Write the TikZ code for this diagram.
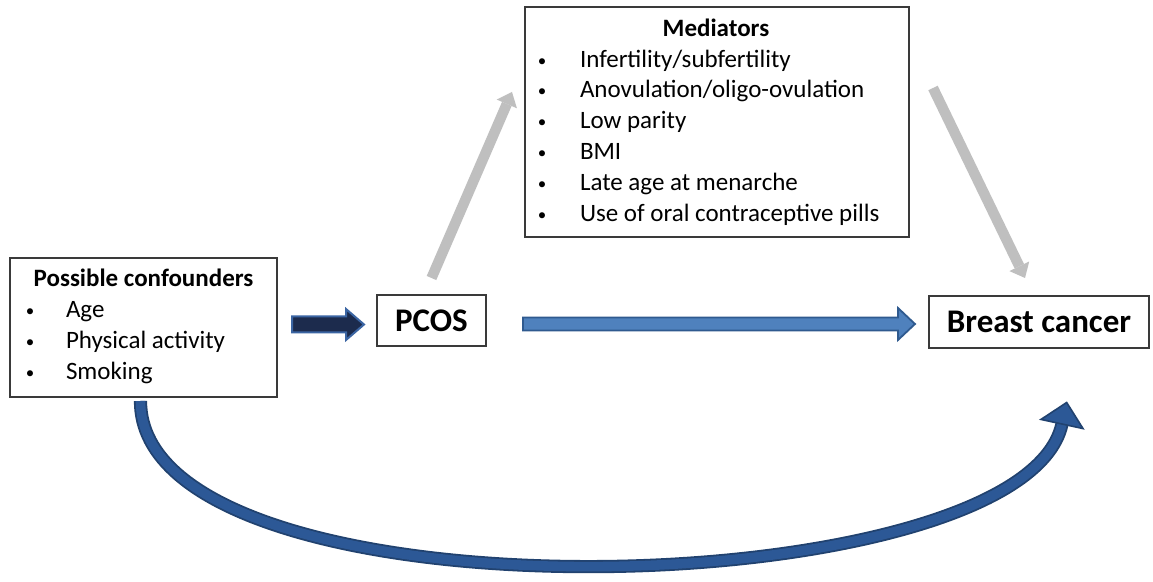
\documentclass[tikz,border=0pt]{standalone}
\usepackage{fontspec}
\setmainfont{Carlito}
\usetikzlibrary{arrows.meta,calc,decorations.markings}
\definecolor{boxline}{HTML}{3A3A3A}
\definecolor{medgray}{HTML}{BFBFBF}
\definecolor{navyfill}{HTML}{1C2B4D}
\definecolor{navyline}{HTML}{3B65A3}
\definecolor{bluefill}{HTML}{4F81BD}
\definecolor{blueline}{HTML}{2F5A8F}
\definecolor{curvemain}{HTML}{2C5896}
\definecolor{curvedark}{HTML}{21426F}
\newcommand{\hblockarrow}[6]{%
  \draw[#1] ($(#2)+(0,-#4)$) -- ($(#3)+(-#6,-#4)$) -- ($(#3)+(-#6,-#5)$) -- (#3)
    -- ($(#3)+(-#6,#5)$) -- ($(#3)+(-#6,#4)$) -- ($(#2)+(0,#4)$) -- cycle;}
\newcommand{\smallbul}{\raisebox{0.9pt}{\fontsize{8.5}{10}\selectfont\textbullet}}
\begin{document}
\begin{tikzpicture}[x=0.5pt,y=-0.5pt,
  boxstyle/.style={draw=boxline, line width=0.8pt, fill=white, inner sep=0pt, outer sep=0pt},
  txt/.style={inner sep=0pt, outer sep=0pt, font=\fontsize{12.5}{15.5}\selectfont},
  bigtxt/.style={font=\fontsize{16.5}{19}\selectfont\bfseries},
  grayarrow/.style={draw=medgray, line width=5.2pt, -{Triangle[length=6.5pt,width=11pt,line width=0pt]}},
  shortarrow/.style={fill=navyfill, draw=navyline, line width=1pt, line join=miter},
  longarrow/.style={fill=bluefill, draw=blueline, line width=0.9pt, line join=miter}]
\fill[white] (0,0) rectangle (1153,582);
\useasboundingbox (0,0) rectangle (1153,582);

% boxes
\node[boxstyle, minimum width=133.5pt, minimum height=69.5pt] (conf) at (143.5,327.5) {};
\node[boxstyle, minimum width=192pt, minimum height=115pt] (med) at (717,122) {};
\node[boxstyle, bigtxt, minimum width=54.5pt, minimum height=25.5pt] (pcos) at (431.5,320.5) {PCOS};
\node[boxstyle, bigtxt, minimum width=110pt, minimum height=26pt] (bc) at (1039,322) {Breast cancer};

% confounders text
\node[txt, anchor=base] (ctitle) at (143.5,287) {\bfseries Possible confounders};
\node[txt, anchor=base] (cb1) at (30,318) {\smallbul};
\node[txt, anchor=base] (cb2) at (30,349) {\smallbul};
\node[txt, anchor=base] (cb3) at (30,380) {\smallbul};
\node[txt, anchor=base west] (ci1) at (66,318) {Age};
\node[txt, anchor=base west] (ci2) at (66,349) {Physical activity};
\node[txt, anchor=base west] (ci3) at (66,380) {Smoking};

% mediators text
\node[txt, anchor=base] (mtitle) at (716,37) {\bfseries Mediators};
\foreach \i/\yy/\tx in {1/68/{Infertility/subfertility},
                        2/98/{Anovulation/oligo-ovulation},
                        3/129/{Low parity},
                        4/160/{BMI},
                        5/191/{Late age at menarche},
                        6/222/{Use of oral contraceptive pills}}{
  \node[txt, anchor=base] (mb\i) at (542,\yy) {\smallbul};
  \node[txt, anchor=base west] (mi\i) at (580,\yy) {\tx};
}

% straight block arrows
\coordinate (a1s) at ($(conf.east)+(15,-3)$);
\coordinate (a1e) at ($(pcos.west)+(-13,4)$);
\hblockarrow{shortarrow}{a1s}{a1e}{8}{15.5}{18}
\coordinate (a2s) at ($(pcos.east)+(37,3.5)$);
\coordinate (a2e) at ($(bc.west)+(-14,2)$);
\hblockarrow{longarrow}{a2s}{a2e}{6.5}{16}{17}

% gray arrows
\coordinate (g1s) at ($(pcos.north)+(0,-17)$);
\coordinate (g1e) at ($(med.west)+(-13,-30)$);
\draw[grayarrow] (g1s) -- (g1e);
\coordinate (g2s) at ($(med.east)+(24,-34)$);
\coordinate (g2e) at ($(bc.north)+(-14,-18)$);
\draw[grayarrow] (g2s) -- (g2e);

% curved arrow
\coordinate (cs) at ($(conf.south)+(-3,4)$);
\coordinate (ce) at (1062,424);
\draw[curvedark, line width=6.6pt] (cs) .. controls (140,628) and (1022,608) .. (ce);
\draw[curvemain, line width=4.8pt, postaction={decorate},
  decoration={markings, mark=at position 1 with {
    \draw[fill=curvemain, draw=curvedark, line width=0.8pt, line join=miter]
      (0,-21.5) -- (22,0) -- (0,21.5) -- cycle;}}]
  (cs) .. controls (140,628) and (1022,608) .. (ce);
\end{tikzpicture}
\end{document}
